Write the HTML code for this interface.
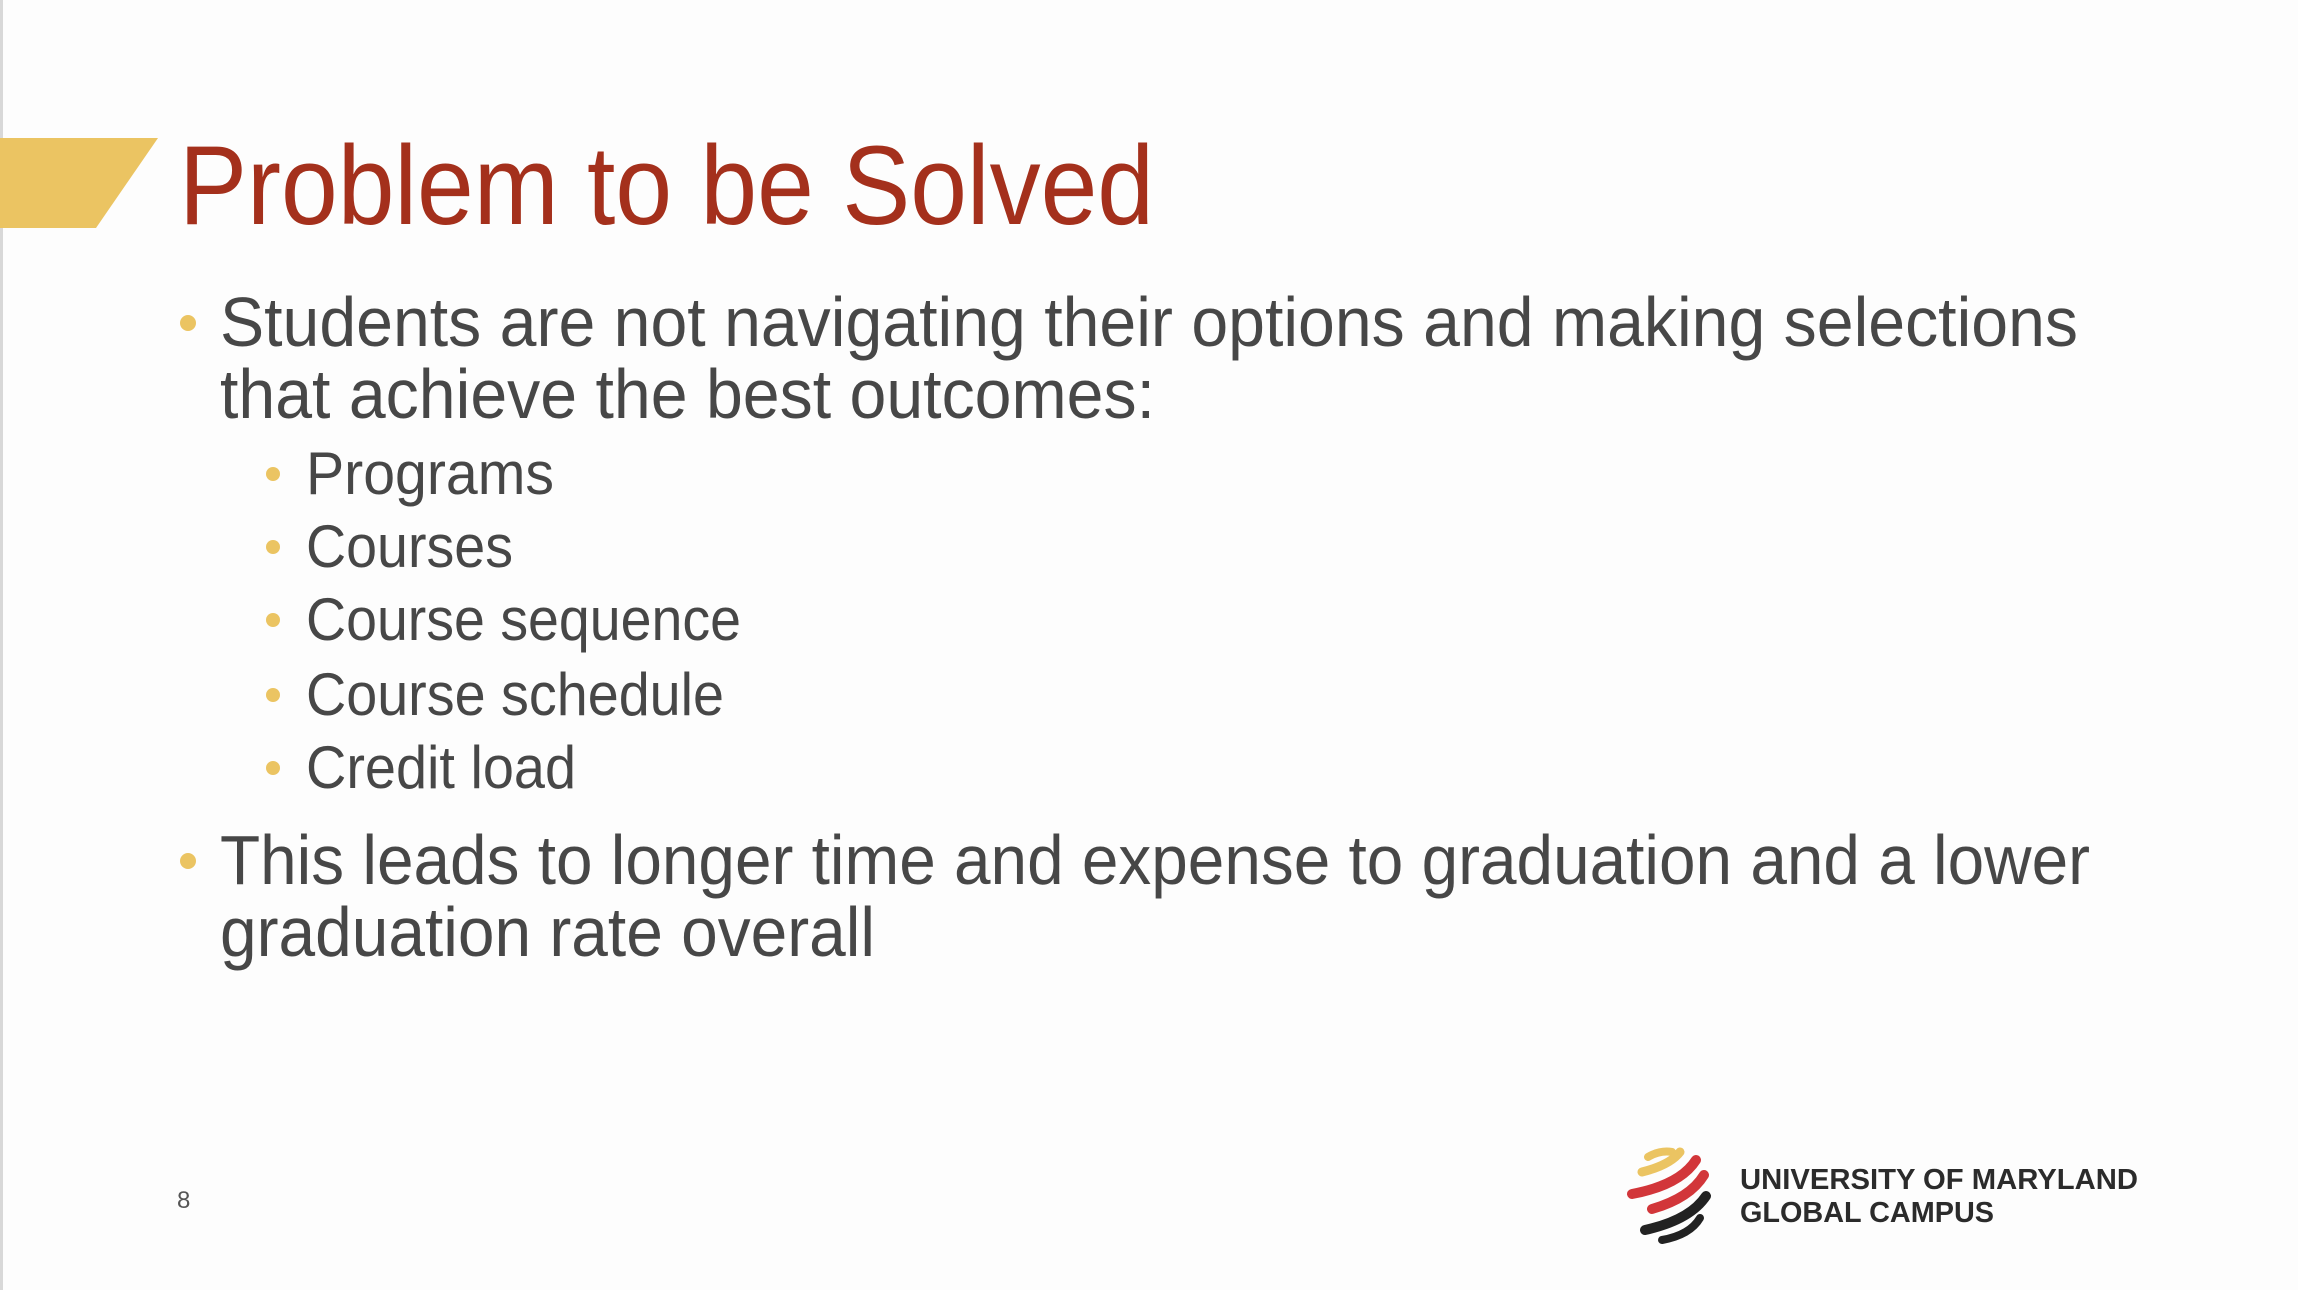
<!DOCTYPE html>
<html><head><meta charset="utf-8"><style>
html,body{margin:0;padding:0;background:#fdfdfd;}
svg{display:block;}
text{font-family:"Liberation Sans",sans-serif;}
</style></head><body>
<svg width="2298" height="1290" viewBox="0 0 2298 1290">
<rect x="0" y="0" width="2298" height="1290" fill="#fdfdfd"/>
<rect x="0" y="0" width="3" height="1290" fill="#d8d8d8"/>
<polygon points="0,138 158,138 96,228 0,228" fill="#ebc462"/>
<text x="179" y="224" font-size="112" fill="#a4301c" textLength="975" lengthAdjust="spacingAndGlyphs">Problem to be Solved</text>
<g fill="#474747">
<circle cx="188" cy="323" r="8" fill="#ebc462"/>
<text x="220" y="346" font-size="70" textLength="1858" lengthAdjust="spacingAndGlyphs">Students are not navigating their options and making selections</text>
<text x="220" y="418" font-size="70" textLength="935" lengthAdjust="spacingAndGlyphs">that achieve the best outcomes:</text>
<circle cx="273" cy="474" r="7" fill="#ebc462"/>
<text x="306" y="494" font-size="60" textLength="248" lengthAdjust="spacingAndGlyphs">Programs</text>
<circle cx="273" cy="547" r="7" fill="#ebc462"/>
<text x="306" y="567" font-size="60" textLength="207" lengthAdjust="spacingAndGlyphs">Courses</text>
<circle cx="273" cy="620" r="7" fill="#ebc462"/>
<text x="306" y="640" font-size="60" textLength="435" lengthAdjust="spacingAndGlyphs">Course sequence</text>
<circle cx="273" cy="695" r="7" fill="#ebc462"/>
<text x="306" y="715" font-size="60" textLength="418" lengthAdjust="spacingAndGlyphs">Course schedule</text>
<circle cx="273" cy="768" r="7" fill="#ebc462"/>
<text x="306" y="788" font-size="60" textLength="270" lengthAdjust="spacingAndGlyphs">Credit load</text>
<circle cx="188" cy="861" r="8" fill="#ebc462"/>
<text x="220" y="884" font-size="70" textLength="1870" lengthAdjust="spacingAndGlyphs">This leads to longer time and expense to graduation and a lower</text>
<text x="220" y="956" font-size="70" textLength="655" lengthAdjust="spacingAndGlyphs">graduation rate overall</text>
</g>
<text x="177" y="1208" font-size="24" fill="#555">8</text>
<g>
<g stroke-linecap="round" fill="none">
<path d="M1648,1157 Q1660,1150 1672,1152" stroke="#ebc462" stroke-width="8"/>
<path d="M1642,1172 Q1670,1165 1680,1152" stroke="#ebc462" stroke-width="9"/>
<path d="M1632,1194 Q1680,1185 1696,1160" stroke="#d2363a" stroke-width="10"/>
<path d="M1652,1209 Q1690,1198 1704,1175" stroke="#d2363a" stroke-width="10"/>
<path d="M1645,1230 Q1690,1220 1706,1196" stroke="#222" stroke-width="10"/>
<path d="M1662,1240 Q1690,1235 1700,1218" stroke="#222" stroke-width="8"/>
</g>
<text x="1740" y="1189" font-size="29" font-weight="bold" fill="#2b2b2b" textLength="398" lengthAdjust="spacingAndGlyphs">UNIVERSITY OF MARYLAND</text>
<text x="1740" y="1222" font-size="29" font-weight="bold" fill="#2b2b2b" textLength="254" lengthAdjust="spacingAndGlyphs">GLOBAL CAMPUS</text>
</g>
</svg>
</body></html>
